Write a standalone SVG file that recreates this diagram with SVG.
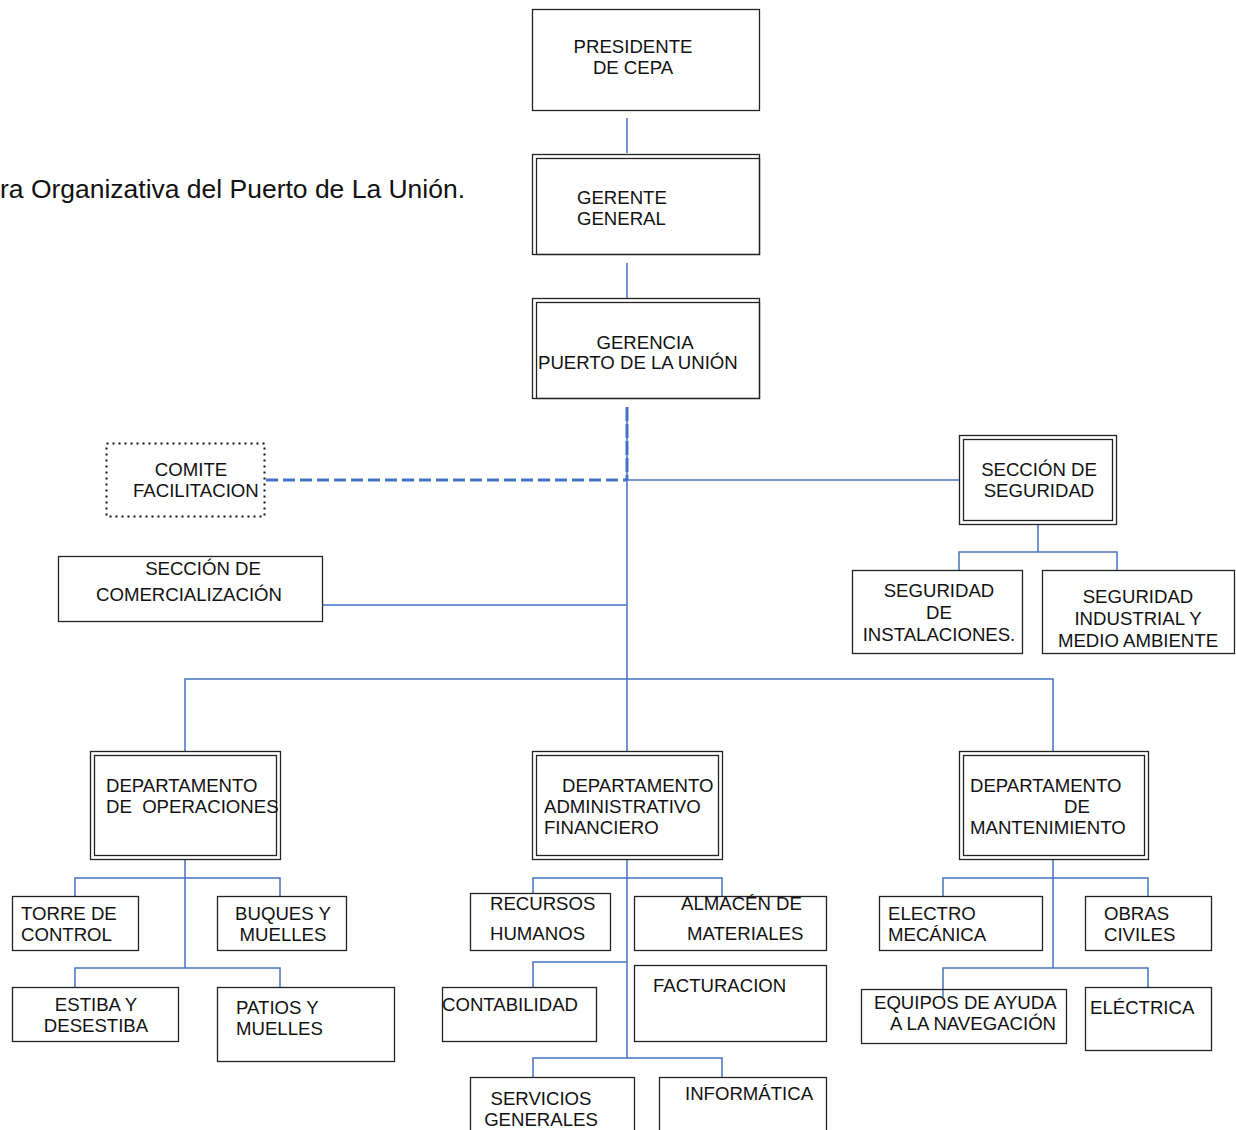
<svg xmlns="http://www.w3.org/2000/svg" width="1236" height="1130" viewBox="0 0 1236 1130">
<style>
text{font-family:"Liberation Sans",Arial,sans-serif;font-size:18.6px;fill:#111}
.b{fill:#fff;stroke:#222;stroke-width:1.3}
.d{fill:none;stroke:#222;stroke-width:1.3}
.c{fill:none;stroke:#4472C4;stroke-width:1.5}
.m{text-anchor:middle}
</style>
<rect width="1236" height="1130" fill="#fff"/>
<text x="0" y="198" style="font-size:25px" textLength="465" lengthAdjust="spacingAndGlyphs">ra Organizativa del Puerto de La Unión.</text>

<g id="connectors">
<path class="c" d="M627 118V153M627 263V298M627 407V751"/>
<path d="M627 407V480" fill="none" stroke="#4472C4" stroke-width="3" stroke-dasharray="14 3"/>
<path d="M266 480H627" fill="none" stroke="#4472C4" stroke-width="3" stroke-dasharray="12 5"/>
<path class="c" d="M627 480H959M322 605H627"/>
<path class="c" d="M1038 524V552M959 570V552H1117V570"/>
<path class="c" d="M185 751V679H1053V751"/>
<path class="c" d="M185 859V968M75 896V878H280V896M75 987V968H280V987"/>
<path class="c" d="M627 859V1058M533 893V878H722V896M533 987V962H627M533 1077V1058H722V1077"/>
<path class="c" d="M1053 859V968M943 896V878H1148V896M943 997V968H1148V987"/>
</g>

<g id="presidente"><rect class="b" x="532.5" y="9.5" width="227" height="101"/>
<text class="m" x="633" y="53">PRESIDENTE</text><text class="m" x="633" y="74">DE CEPA</text></g>

<g id="gerente"><rect class="b" x="532.5" y="154.5" width="227" height="100"/><rect class="d" x="536.5" y="158.5" width="223" height="96"/>
<text x="577" y="204">GERENTE</text><text x="577" y="225">GENERAL</text></g>

<g id="gerencia"><rect class="b" x="532.5" y="298.5" width="227" height="100"/><rect class="d" x="536.5" y="302.5" width="223" height="96"/>
<text class="m" x="645" y="349">GERENCIA</text><text x="538" y="369">PUERTO DE LA UNIÓN</text></g>

<g id="comite"><rect x="106.5" y="443.5" width="158" height="73" fill="#fff" stroke="#111" stroke-width="2" stroke-dasharray="2 4"/>
<text class="m" x="191" y="476">COMITE</text><text x="133" y="497">FACILITACION</text></g>

<g id="comercializacion"><rect class="b" x="58.5" y="556.5" width="264" height="65"/>
<text class="m" x="203" y="575">SECCIÓN DE</text><text x="96" y="601">COMERCIALIZACIÓN</text></g>

<g id="seguridad"><rect class="b" x="959.5" y="435.5" width="157" height="89"/><rect class="d" x="963.5" y="439.5" width="149" height="81"/>
<text class="m" x="1039" y="476">SECCIÓN DE</text><text class="m" x="1039" y="497">SEGURIDAD</text></g>

<g id="seg-instalaciones"><rect class="b" x="852.5" y="570.5" width="170" height="83"/>
<text class="m" x="939" y="597">SEGURIDAD</text><text class="m" x="939" y="619">DE</text><text class="m" x="939" y="641">INSTALACIONES.</text></g>

<g id="seg-industrial"><rect class="b" x="1042.5" y="570.5" width="192" height="83"/>
<text class="m" x="1138" y="603">SEGURIDAD</text><text class="m" x="1138" y="625">INDUSTRIAL Y</text><text class="m" x="1138" y="647">MEDIO AMBIENTE</text></g>

<g id="dep-operaciones"><rect class="b" x="90.5" y="751.5" width="190" height="108"/><rect class="d" x="94.5" y="755.5" width="182" height="100"/>
<text x="106" y="792">DEPARTAMENTO</text><text x="106" y="813" xml:space="preserve">DE  OPERACIONES</text></g>

<g id="torre"><rect class="b" x="12.5" y="896.5" width="126" height="54"/>
<text x="21" y="920">TORRE DE</text><text x="21" y="941">CONTROL</text></g>

<g id="buques"><rect class="b" x="217.5" y="896.5" width="129" height="54"/>
<text class="m" x="283" y="920">BUQUES Y</text><text class="m" x="283" y="941">MUELLES</text></g>

<g id="estiba"><rect class="b" x="12.5" y="987.5" width="166" height="54"/>
<text class="m" x="96" y="1011">ESTIBA Y</text><text class="m" x="96" y="1032">DESESTIBA</text></g>

<g id="patios"><rect class="b" x="217.5" y="987.5" width="177" height="74"/>
<text x="236" y="1014">PATIOS Y</text><text x="236" y="1035">MUELLES</text></g>

<g id="dep-administrativo"><rect class="b" x="532.5" y="751.5" width="190" height="108"/><rect class="d" x="536.5" y="755.5" width="182" height="100"/>
<text x="562" y="792">DEPARTAMENTO</text><text x="544" y="813">ADMINISTRATIVO</text><text x="544" y="834">FINANCIERO</text></g>

<g id="recursos"><rect class="b" x="470.5" y="893.5" width="140" height="57"/>
<text x="490" y="910">RECURSOS</text><text x="490" y="940">HUMANOS</text></g>

<g id="almacen"><rect class="b" x="634.5" y="896.5" width="192" height="54"/>
<text x="681" y="910">ALMACÉN DE</text><text x="687" y="940">MATERIALES</text></g>

<g id="contabilidad"><rect class="b" x="442.5" y="987.5" width="154" height="54"/>
<text x="442" y="1011">CONTABILIDAD</text></g>

<g id="facturacion"><rect class="b" x="634.5" y="965.5" width="192" height="76"/>
<text x="653" y="992">FACTURACION</text></g>

<g id="servicios"><rect class="b" x="470.5" y="1077.5" width="164" height="60"/>
<text class="m" x="541" y="1105">SERVICIOS</text><text class="m" x="541" y="1126">GENERALES</text></g>

<g id="informatica"><rect class="b" x="659.5" y="1077.5" width="167" height="60"/>
<text x="685" y="1100">INFORMÁTICA</text></g>

<g id="dep-mantenimiento"><rect class="b" x="959.5" y="751.5" width="189" height="108"/><rect class="d" x="963.5" y="755.5" width="181" height="100"/>
<text x="970" y="792">DEPARTAMENTO</text><text x="1064" y="813">DE</text><text x="970" y="834">MANTENIMIENTO</text></g>

<g id="electro"><rect class="b" x="879.5" y="896.5" width="163" height="54"/>
<text x="888" y="920">ELECTRO</text><text x="888" y="941">MECÁNICA</text></g>

<g id="obras"><rect class="b" x="1085.5" y="896.5" width="126" height="54"/>
<text x="1104" y="920">OBRAS</text><text x="1104" y="941">CIVILES</text></g>

<g id="equipos"><rect class="d" x="861.5" y="989.5" width="205" height="54"/>
<text x="874" y="1009">EQUIPOS DE AYUDA</text><text x="890" y="1030">A LA NAVEGACIÓN</text></g>

<g id="electrica"><rect class="b" x="1085.5" y="987.5" width="126" height="63"/>
<text x="1090" y="1014">ELÉCTRICA</text></g>
</svg>
